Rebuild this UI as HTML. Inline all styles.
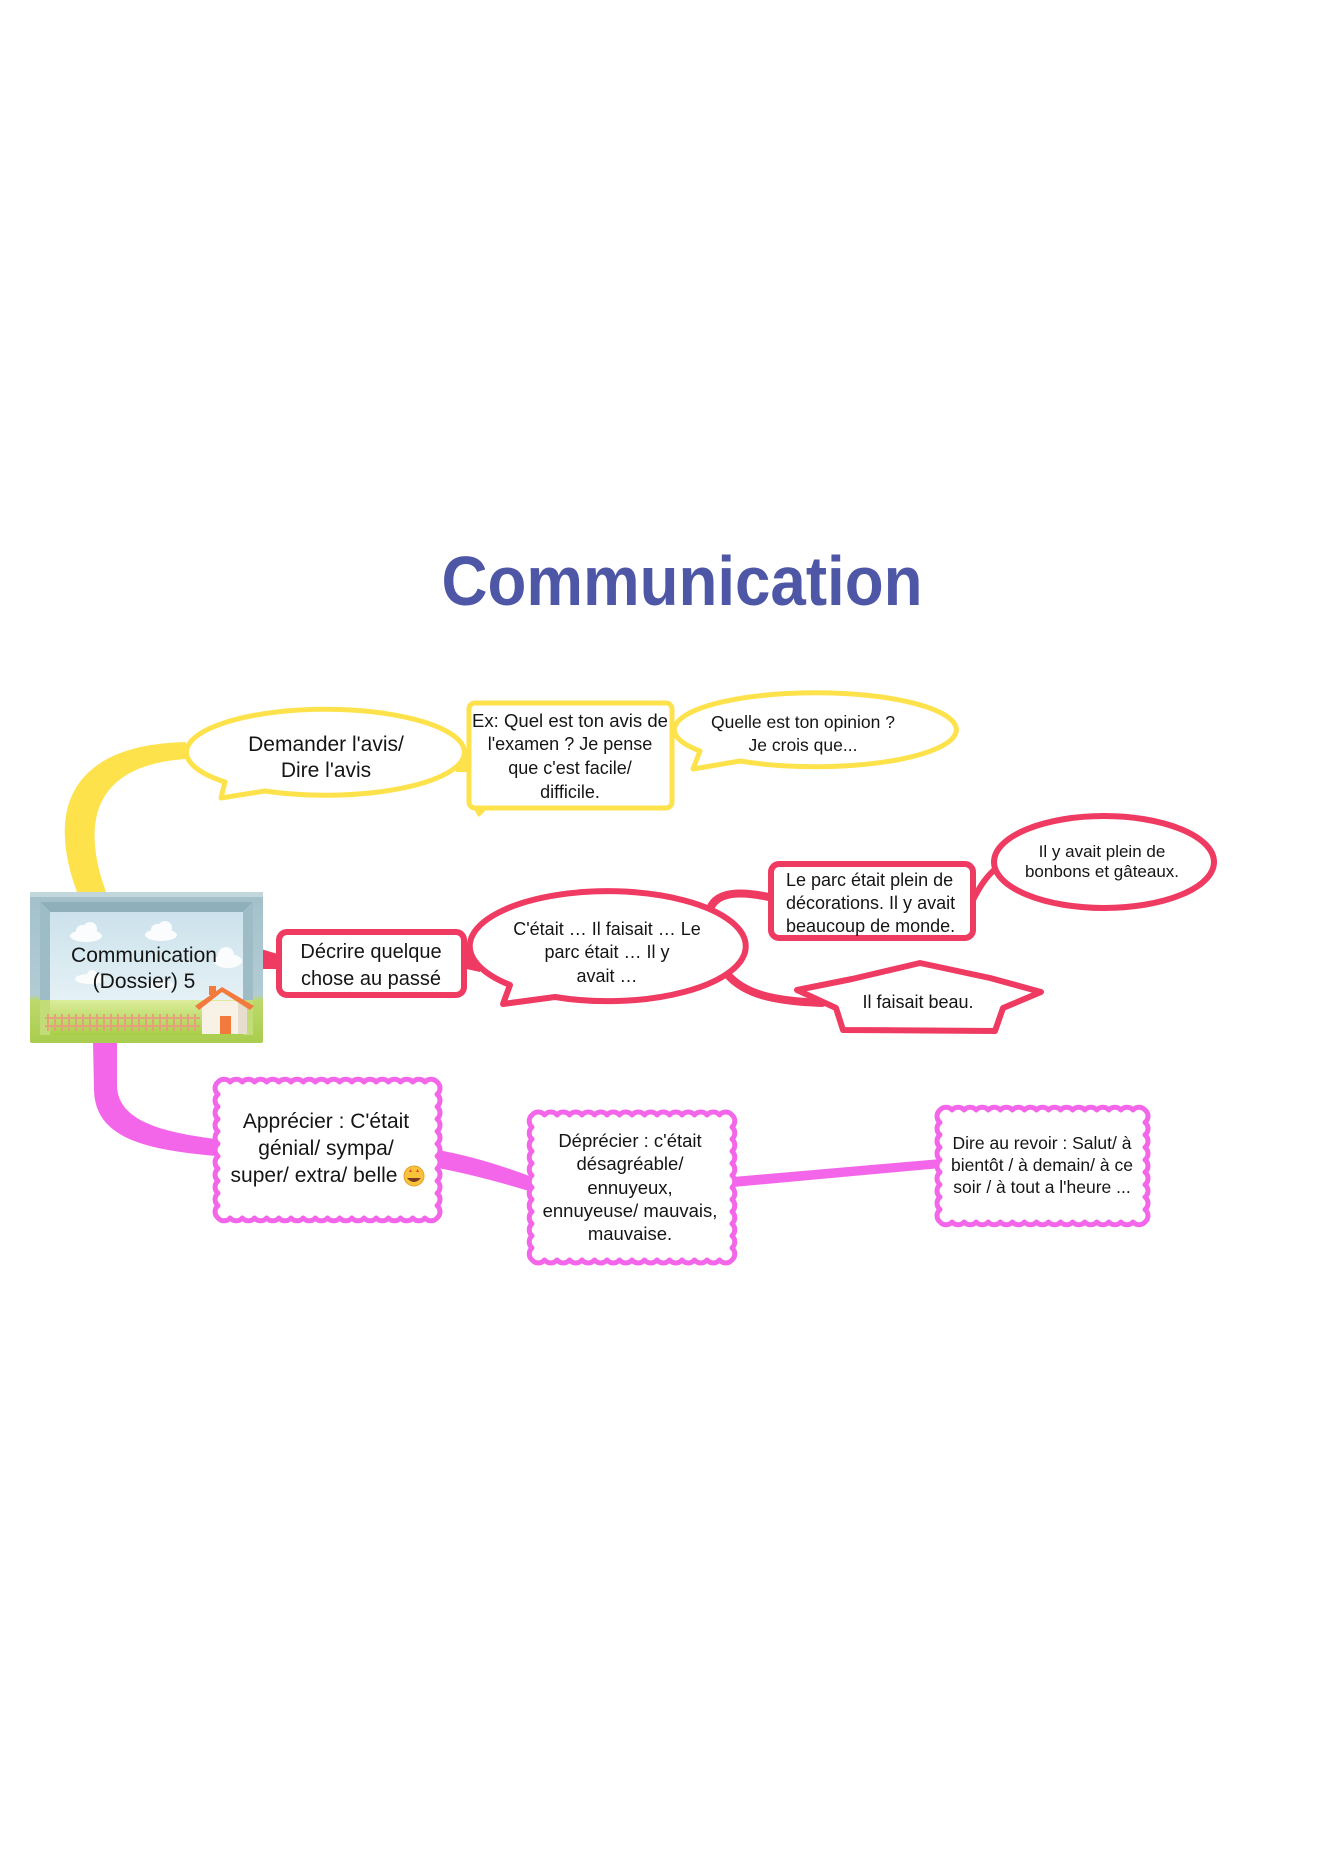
<!DOCTYPE html>
<html>
<head>
<meta charset="utf-8">
<style>
html,body{margin:0;padding:0;background:#fff;}
body{width:1323px;height:1872px;overflow:hidden;position:relative;}
svg{position:absolute;left:0;top:0;}
text{font-family:"Liberation Sans","DejaVu Sans",sans-serif;fill:#151515;}
</style>
</head>
<body>
<svg width="1323" height="1872" viewBox="0 0 1323 1872" xmlns="http://www.w3.org/2000/svg">
  <defs>
    <linearGradient id="sky" x1="0" y1="0" x2="0" y2="1">
      <stop offset="0" stop-color="#c9e0ea"/>
      <stop offset="1" stop-color="#eef7fa"/>
    </linearGradient>
    <linearGradient id="grass" x1="0" y1="0" x2="0" y2="1">
      <stop offset="0" stop-color="#dcec9c"/>
      <stop offset="1" stop-color="#a8cf47"/>
    </linearGradient>
    <linearGradient id="frame" x1="0" y1="0" x2="0" y2="1">
      <stop offset="0" stop-color="#a3c0ca"/>
      <stop offset="0.68" stop-color="#b2ccd4"/>
      <stop offset="0.72" stop-color="#bcd96a"/>
      <stop offset="1" stop-color="#a9cd4e"/>
    </linearGradient>
  </defs>

  <!-- Title -->
  <text x="682" y="605" font-size="70" font-weight="bold" text-anchor="middle" textLength="481" lengthAdjust="spacingAndGlyphs" style="fill:#4e56a6">Communication</text>

  <!-- ===== Yellow branch ===== -->
  <path d="M77 892 C50 820 60 745 186 742 L186 759 C95 765 80 820 106 892 Z" fill="#fde24c"/>
  <path d="M456 748 L472 752 L472 772 L456 772 Z" fill="#fde24c"/>

  <!-- Demander bubble -->
  <path d="M225 782 A139 43 0 1 1 265 791 L221 798 Z" fill="#fff" stroke="#fde24c" stroke-width="5" stroke-linejoin="round"/>
  <text x="326" y="751" font-size="21" text-anchor="middle">Demander l'avis/</text>
  <text x="326" y="777" font-size="21" text-anchor="middle">Dire l'avis</text>

  <!-- Quelle bubble -->
  <path d="M700 751 A141 37 0 1 1 740 761 L693 769 Z" fill="#fff" stroke="#fde24c" stroke-width="5" stroke-linejoin="round"/>
  <text x="803" y="728" font-size="17.5" text-anchor="middle">Quelle est ton opinion ?</text>
  <text x="803" y="751" font-size="17.5" text-anchor="middle">Je crois que...</text>

  <!-- Ex box -->
  <path d="M475 808 L479 815 L486 808 Z" fill="#fde24c" stroke="#fde24c" stroke-width="3" stroke-linejoin="round"/>
  <rect x="469" y="703" width="203" height="105" rx="6" fill="#fff" stroke="#fde24c" stroke-width="5"/>
  <text x="570" y="727" font-size="18" text-anchor="middle" textLength="196" lengthAdjust="spacingAndGlyphs">Ex: Quel est ton avis de</text>
  <text x="570" y="750" font-size="18" text-anchor="middle">l'examen ?  Je pense</text>
  <text x="570" y="774" font-size="18" text-anchor="middle">que c'est facile/</text>
  <text x="570" y="798" font-size="18" text-anchor="middle">difficile.</text>

  <!-- ===== Red branch ===== -->
  <path d="M261 949 L281 955 L281 969 L261 969 Z" fill="#ef3a62"/>
  <path d="M462 950 L480 944 L480 972 L462 968 Z" fill="#ef3a62"/>
  <path d="M708 916 C711 895 730 888 773 898" fill="none" stroke="#ef3a62" stroke-width="8" stroke-linecap="round"/>
  <path d="M972 902 C980 886 987 875 998 867" fill="none" stroke="#ef3a62" stroke-width="6" stroke-linecap="round"/>
  <path d="M727 974 C745 995 775 1001 822 1003" fill="none" stroke="#ef3a62" stroke-width="8" stroke-linecap="round"/>

  <!-- Décrire box -->
  <rect x="279" y="932" width="185" height="63" rx="8" fill="#fff" stroke="#ef3a62" stroke-width="6"/>
  <text x="371" y="958" font-size="20" text-anchor="middle">Décrire quelque</text>
  <text x="371" y="985" font-size="20" text-anchor="middle">chose au passé</text>

  <!-- C'était bubble -->
  <path d="M510 985 A138 55 0 1 1 555 997 L503 1004 Z" fill="#fff" stroke="#ef3a62" stroke-width="6" stroke-linejoin="round"/>
  <text x="607" y="935" font-size="18" text-anchor="middle">C'était … Il faisait … Le</text>
  <text x="607" y="958" font-size="18" text-anchor="middle">parc était … Il y</text>
  <text x="607" y="982" font-size="18" text-anchor="middle">avait …</text>

  <!-- Le parc box -->
  <rect x="771" y="864" width="202" height="74" rx="8" fill="#fff" stroke="#ef3a62" stroke-width="6"/>
  <text x="786" y="886" font-size="18">Le parc était plein de</text>
  <text x="786" y="909" font-size="18">décorations. Il y avait</text>
  <text x="786" y="932" font-size="18">beaucoup de monde.</text>

  <!-- Bonbons ellipse -->
  <ellipse cx="1104" cy="862" rx="110" ry="46" fill="#fff" stroke="#ef3a62" stroke-width="6"/>
  <text x="1102" y="857" font-size="17" text-anchor="middle">Il y avait plein de</text>
  <text x="1102" y="877" font-size="17" text-anchor="middle">bonbons et gâteaux.</text>

  <!-- Star -->
  <path d="M797 990 L852 979 L920 963 L990 978 L1041 992 L1003 1008 L995 1031 L843 1030 L836 1008 Z" fill="#fff" stroke="#ef3a62" stroke-width="6" stroke-linejoin="round"/>
  <text x="918" y="1008" font-size="18" text-anchor="middle">Il faisait beau.</text>

  <!-- ===== Magenta branch ===== -->
  <path d="M93 1042 L94 1090 C95 1140 150 1150 216 1156 L216 1139 C160 1132 117 1120 117 1085 L117 1042 Z" fill="#f366ea"/>
  <path d="M438 1150 Q482 1158 532 1177 L532 1192 Q480 1176 438 1168 Z" fill="#f366ea"/>
  <path d="M733 1177 L941 1159 L941 1168 L733 1187 Z" fill="#f366ea"/>

  <!-- Apprécier scalloped box -->
  <path d="M218 1082
    a8 8 0 0 1 12.17 0 a8 8 0 0 1 12.17 0 a8 8 0 0 1 12.17 0 a8 8 0 0 1 12.17 0 a8 8 0 0 1 12.17 0 a8 8 0 0 1 12.17 0
    a8 8 0 0 1 12.17 0 a8 8 0 0 1 12.17 0 a8 8 0 0 1 12.17 0 a8 8 0 0 1 12.17 0 a8 8 0 0 1 12.17 0 a8 8 0 0 1 12.17 0
    a8 8 0 0 1 12.17 0 a8 8 0 0 1 12.17 0 a8 8 0 0 1 12.17 0 a8 8 0 0 1 12.17 0 a8 8 0 0 1 12.17 0 a8 8 0 0 1 12.17 0
    a8 8 0 0 1 0 12.36 a8 8 0 0 1 0 12.36 a8 8 0 0 1 0 12.36 a8 8 0 0 1 0 12.36 a8 8 0 0 1 0 12.36 a8 8 0 0 1 0 12.36
    a8 8 0 0 1 0 12.36 a8 8 0 0 1 0 12.36 a8 8 0 0 1 0 12.36 a8 8 0 0 1 0 12.36 a8 8 0 0 1 0 12.36
    a8 8 0 0 1 -12.17 0 a8 8 0 0 1 -12.17 0 a8 8 0 0 1 -12.17 0 a8 8 0 0 1 -12.17 0 a8 8 0 0 1 -12.17 0 a8 8 0 0 1 -12.17 0
    a8 8 0 0 1 -12.17 0 a8 8 0 0 1 -12.17 0 a8 8 0 0 1 -12.17 0 a8 8 0 0 1 -12.17 0 a8 8 0 0 1 -12.17 0 a8 8 0 0 1 -12.17 0
    a8 8 0 0 1 -12.17 0 a8 8 0 0 1 -12.17 0 a8 8 0 0 1 -12.17 0 a8 8 0 0 1 -12.17 0 a8 8 0 0 1 -12.17 0 a8 8 0 0 1 -12.17 0
    a8 8 0 0 1 0 -12.36 a8 8 0 0 1 0 -12.36 a8 8 0 0 1 0 -12.36 a8 8 0 0 1 0 -12.36 a8 8 0 0 1 0 -12.36 a8 8 0 0 1 0 -12.36
    a8 8 0 0 1 0 -12.36 a8 8 0 0 1 0 -12.36 a8 8 0 0 1 0 -12.36 a8 8 0 0 1 0 -12.36 a8 8 0 0 1 0 -12.36 Z"
    fill="#fff" stroke="#f366ea" stroke-width="5" stroke-linejoin="round"/>
  <text x="326" y="1128" font-size="21" text-anchor="middle">Apprécier : C'était</text>
  <text x="326" y="1155" font-size="21" text-anchor="middle">génial/ sympa/</text>
  <text x="314" y="1182" font-size="21" text-anchor="middle">super/ extra/ belle</text>
  <g>
    <circle cx="414" cy="1176" r="10" fill="#f8c23a" stroke="#e0a12a" stroke-width="1"/>
    <path d="M407 1178 Q414 1186 421 1178 Z" fill="#7a3b1e"/>
    <path d="M409 1172 l1.5 -3 l1.5 3 z M416 1172 l1.5 -3 l1.5 3 z" fill="#e8432c"/>
  </g>

  <!-- Déprécier scalloped box -->
  <path d="M532 1115
    a8 8 0 0 1 12.5 0 a8 8 0 0 1 12.5 0 a8 8 0 0 1 12.5 0 a8 8 0 0 1 12.5 0 a8 8 0 0 1 12.5 0 a8 8 0 0 1 12.5 0 a8 8 0 0 1 12.5 0 a8 8 0 0 1 12.5 0
    a8 8 0 0 1 12.5 0 a8 8 0 0 1 12.5 0 a8 8 0 0 1 12.5 0 a8 8 0 0 1 12.5 0 a8 8 0 0 1 12.5 0 a8 8 0 0 1 12.5 0 a8 8 0 0 1 12.5 0 a8 8 0 0 1 12.5 0
    a8 8 0 0 1 0 12.08 a8 8 0 0 1 0 12.08 a8 8 0 0 1 0 12.08 a8 8 0 0 1 0 12.08 a8 8 0 0 1 0 12.08 a8 8 0 0 1 0 12.08
    a8 8 0 0 1 0 12.08 a8 8 0 0 1 0 12.08 a8 8 0 0 1 0 12.08 a8 8 0 0 1 0 12.08 a8 8 0 0 1 0 12.08 a8 8 0 0 1 0 12.08
    a8 8 0 0 1 -12.5 0 a8 8 0 0 1 -12.5 0 a8 8 0 0 1 -12.5 0 a8 8 0 0 1 -12.5 0 a8 8 0 0 1 -12.5 0 a8 8 0 0 1 -12.5 0 a8 8 0 0 1 -12.5 0 a8 8 0 0 1 -12.5 0
    a8 8 0 0 1 -12.5 0 a8 8 0 0 1 -12.5 0 a8 8 0 0 1 -12.5 0 a8 8 0 0 1 -12.5 0 a8 8 0 0 1 -12.5 0 a8 8 0 0 1 -12.5 0 a8 8 0 0 1 -12.5 0 a8 8 0 0 1 -12.5 0
    a8 8 0 0 1 0 -12.08 a8 8 0 0 1 0 -12.08 a8 8 0 0 1 0 -12.08 a8 8 0 0 1 0 -12.08 a8 8 0 0 1 0 -12.08 a8 8 0 0 1 0 -12.08
    a8 8 0 0 1 0 -12.08 a8 8 0 0 1 0 -12.08 a8 8 0 0 1 0 -12.08 a8 8 0 0 1 0 -12.08 a8 8 0 0 1 0 -12.08 a8 8 0 0 1 0 -12.08 Z"
    fill="#fff" stroke="#f366ea" stroke-width="5" stroke-linejoin="round"/>
  <text x="630" y="1147" font-size="18.5" text-anchor="middle">Déprécier : c'était</text>
  <text x="630" y="1170" font-size="18.5" text-anchor="middle">désagréable/</text>
  <text x="630" y="1194" font-size="18.5" text-anchor="middle">ennuyeux,</text>
  <text x="630" y="1217" font-size="18.5" text-anchor="middle">ennuyeuse/ mauvais,</text>
  <text x="630" y="1240" font-size="18.5" text-anchor="middle">mauvaise.</text>

  <!-- Dire au revoir scalloped box -->
  <path d="M940 1110
    a8 8 0 0 1 12.06 0 a8 8 0 0 1 12.06 0 a8 8 0 0 1 12.06 0 a8 8 0 0 1 12.06 0 a8 8 0 0 1 12.06 0 a8 8 0 0 1 12.06 0
    a8 8 0 0 1 12.06 0 a8 8 0 0 1 12.06 0 a8 8 0 0 1 12.06 0 a8 8 0 0 1 12.06 0 a8 8 0 0 1 12.06 0 a8 8 0 0 1 12.06 0
    a8 8 0 0 1 12.06 0 a8 8 0 0 1 12.06 0 a8 8 0 0 1 12.06 0 a8 8 0 0 1 12.06 0 a8 8 0 0 1 12.06 0
    a8 8 0 0 1 0 12.44 a8 8 0 0 1 0 12.44 a8 8 0 0 1 0 12.44 a8 8 0 0 1 0 12.44 a8 8 0 0 1 0 12.44
    a8 8 0 0 1 0 12.44 a8 8 0 0 1 0 12.44 a8 8 0 0 1 0 12.44 a8 8 0 0 1 0 12.44
    a8 8 0 0 1 -12.06 0 a8 8 0 0 1 -12.06 0 a8 8 0 0 1 -12.06 0 a8 8 0 0 1 -12.06 0 a8 8 0 0 1 -12.06 0 a8 8 0 0 1 -12.06 0
    a8 8 0 0 1 -12.06 0 a8 8 0 0 1 -12.06 0 a8 8 0 0 1 -12.06 0 a8 8 0 0 1 -12.06 0 a8 8 0 0 1 -12.06 0 a8 8 0 0 1 -12.06 0
    a8 8 0 0 1 -12.06 0 a8 8 0 0 1 -12.06 0 a8 8 0 0 1 -12.06 0 a8 8 0 0 1 -12.06 0 a8 8 0 0 1 -12.06 0
    a8 8 0 0 1 0 -12.44 a8 8 0 0 1 0 -12.44 a8 8 0 0 1 0 -12.44 a8 8 0 0 1 0 -12.44 a8 8 0 0 1 0 -12.44
    a8 8 0 0 1 0 -12.44 a8 8 0 0 1 0 -12.44 a8 8 0 0 1 0 -12.44 a8 8 0 0 1 0 -12.44 Z"
    fill="#fff" stroke="#f366ea" stroke-width="5" stroke-linejoin="round"/>
  <text x="1042" y="1149" font-size="17.5" text-anchor="middle">Dire au revoir : Salut/ à</text>
  <text x="1042" y="1171" font-size="17.5" text-anchor="middle">bientôt / à demain/ à ce</text>
  <text x="1042" y="1193" font-size="17.5" text-anchor="middle">soir / à tout a l'heure ...</text>

  <!-- ===== Central node (picture box) ===== -->
  <g>
    <rect x="30" y="892" width="233" height="151" rx="2" fill="url(#frame)"/>
    <rect x="30" y="892" width="233" height="5" fill="#c3d6dc"/>
    <rect x="40" y="902" width="213" height="133" fill="url(#sky)"/>
    <polygon points="40,902 253,902 243,912 50,912" fill="#8fb0bb"/>
    <polygon points="40,902 50,912 50,1000 40,1000" fill="#9dbcc6"/>
    <polygon points="253,902 243,912 243,1000 253,1000" fill="#9dbcc6"/>
    <g fill="#ffffff" opacity="0.9">
      <ellipse cx="86" cy="936" rx="16" ry="6"/><circle cx="82" cy="931" r="6"/><circle cx="90" cy="929" r="7"/>
      <ellipse cx="161" cy="935" rx="16" ry="6"/><circle cx="157" cy="930" r="6"/><circle cx="165" cy="928" r="7"/>
      <ellipse cx="228" cy="961" rx="14" ry="7"/><circle cx="226" cy="955" r="8"/>
      <ellipse cx="90" cy="979" rx="15" ry="5"/><circle cx="92" cy="975" r="5"/>
      <ellipse cx="160" cy="985" rx="14" ry="5" opacity="0.7"/>
    </g>
    <rect x="40" y="1000" width="213" height="35" fill="url(#grass)"/>
    <polygon points="40,1000 50,1000 50,1035 40,1035" fill="#c2dc78"/>
    <polygon points="243,1000 253,1000 253,1035 243,1035" fill="#c2dc78"/>
    <g stroke="#e3a27c" stroke-width="2">
      <line x1="45" y1="1018" x2="200" y2="1018"/>
      <line x1="45" y1="1026" x2="200" y2="1026"/>
      <line x1="48" y1="1014" x2="48" y2="1031"/><line x1="55" y1="1014" x2="55" y2="1031"/>
      <line x1="62" y1="1014" x2="62" y2="1031"/><line x1="69" y1="1014" x2="69" y2="1031"/>
      <line x1="76" y1="1014" x2="76" y2="1031"/><line x1="83" y1="1014" x2="83" y2="1031"/>
      <line x1="90" y1="1014" x2="90" y2="1031"/><line x1="97" y1="1014" x2="97" y2="1031"/>
      <line x1="104" y1="1014" x2="104" y2="1031"/><line x1="111" y1="1014" x2="111" y2="1031"/>
      <line x1="118" y1="1014" x2="118" y2="1031"/><line x1="125" y1="1014" x2="125" y2="1031"/>
      <line x1="132" y1="1014" x2="132" y2="1031"/><line x1="139" y1="1014" x2="139" y2="1031"/>
      <line x1="146" y1="1014" x2="146" y2="1031"/><line x1="153" y1="1014" x2="153" y2="1031"/>
      <line x1="160" y1="1014" x2="160" y2="1031"/><line x1="167" y1="1014" x2="167" y2="1031"/>
      <line x1="174" y1="1014" x2="174" y2="1031"/><line x1="181" y1="1014" x2="181" y2="1031"/>
      <line x1="188" y1="1014" x2="188" y2="1031"/><line x1="195" y1="1014" x2="195" y2="1031"/>
    </g>
    <rect x="202" y="1001" width="45" height="33" fill="#f7f1e6"/>
    <rect x="238" y="1003" width="9" height="31" fill="#e6ddcf"/>
    <polygon points="195,1006 222,987 254,1006 250,1010 222,992 199,1010" fill="#f27a3c"/>
    <rect x="209" y="986" width="7" height="9" fill="#f27a3c"/>
    <rect x="220" y="1016" width="11" height="18" fill="#f27a3c"/>
    <text x="144" y="962" font-size="21" text-anchor="middle">Communication</text>
    <text x="144" y="988" font-size="21" text-anchor="middle">(Dossier) 5</text>
  </g>
</svg>
</body>
</html>
